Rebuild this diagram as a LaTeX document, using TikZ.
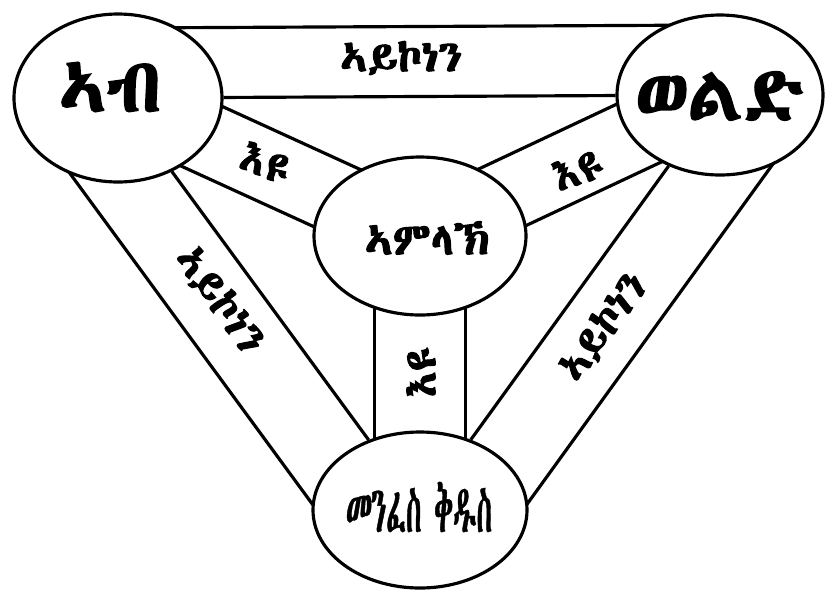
\documentclass[tikz,border=0pt]{standalone}
\usepackage{fontspec}
\usetikzlibrary{shapes.geometric,calc,backgrounds}
\newfontfamily\geez[FakeBold=2.5]{Abyssinica SIL}
\newfontfamily\geezthin[FakeStretch=0.43,FakeBold=0.6]{Abyssinica SIL}

\begin{document}
\begin{tikzpicture}[x=0.03cm, y=-0.03cm,
    person/.style={draw, ellipse, fill=white, inner sep=0pt, line width=2.7pt},
    band/.style={line width=2.7pt},
    bigname/.style={font=\geez\fontsize{64}{64}\selectfont},
    bandtext/.style={font=\geez\fontsize{37}{37}\selectfont}]
  \useasboundingbox (0,0) rectangle (833,602);
  % The four circles
  \node[person, minimum width=6.24cm, minimum height=5.04cm] (ab) at (118,98) {};
  \node[person, minimum width=6.18cm, minimum height=4.8cm] (wld) at (720,95) {};
  \node[person, minimum width=6.36cm, minimum height=4.74cm] (aml) at (420,236) {};
  \node[person, minimum width=6.42cm, minimum height=4.68cm] (mfs) at (420,510) {};
  % Names in the circles
  \node[bigname] (ab-name) at (110,87) {ኣብ};
  \node[bigname] (wld-name) at (720,96) {ወልድ};
  \node[font=\geez\fontsize{38}{38}\selectfont] (aml-name) at (427,238) {ኣምላኽ};
  \node[font=\geezthin\fontsize{56}{56}\selectfont] (mfs-name) at (419,507) {መንፈስ ቅዱስ};
  % Bands behind the circles
  \begin{pgfonlayer}{background}
    % outer bands
    \draw[band] (ab) -- (wld);
    \draw[band] ($(ab)!2.1cm!90:(wld)$) -- ($(wld)!2.1cm!-90:(ab)$);
    \draw[band] (ab) -- (mfs);
    \draw[band] ($(ab)!2.5cm!-90:(mfs)$) -- ($(mfs)!2.5cm!90:(ab)$);
    \draw[band] (mfs) -- (wld);
    \draw[band] ($(mfs)!2.5cm!-90:(wld)$) -- ($(wld)!2.5cm!90:(mfs)$);
    % inner bands
    \draw[band] ($(ab)!1.07cm!90:(aml)$) -- ($(aml)!1.07cm!-90:(ab)$);
    \draw[band] ($(ab)!1.07cm!-90:(aml)$) -- ($(aml)!1.07cm!90:(ab)$);
    \draw[band] ($(wld)!1.07cm!90:(aml)$) -- ($(aml)!1.07cm!-90:(wld)$);
    \draw[band] ($(wld)!1.07cm!-90:(aml)$) -- ($(aml)!1.07cm!90:(wld)$);
    \draw[band] ($(aml)!1.365cm!90:(mfs)$) -- ($(mfs)!1.365cm!-90:(aml)$);
    \draw[band] ($(aml)!1.365cm!-90:(mfs)$) -- ($(mfs)!1.365cm!90:(aml)$);
  \end{pgfonlayer}
  % Labels on the bands
  \node[bandtext] (ab-wld) at (401,58) {ኣይኮነን};
  \node[bandtext, rotate=-54] (ab-mfs) at (220,300) {ኣይኮነን};
  \node[bandtext, rotate=54] (wld-mfs) at (603,327) {ኣይኮነን};
  \node[bandtext, rotate=-22] (ab-aml) at (266,163) {እዩ};
  \node[bandtext, rotate=18] (wld-aml) at (578,170) {እዩ};
  \node[bandtext, rotate=90] (aml-mfs) at (421,372) {እዩ};
\end{tikzpicture}
\end{document}
